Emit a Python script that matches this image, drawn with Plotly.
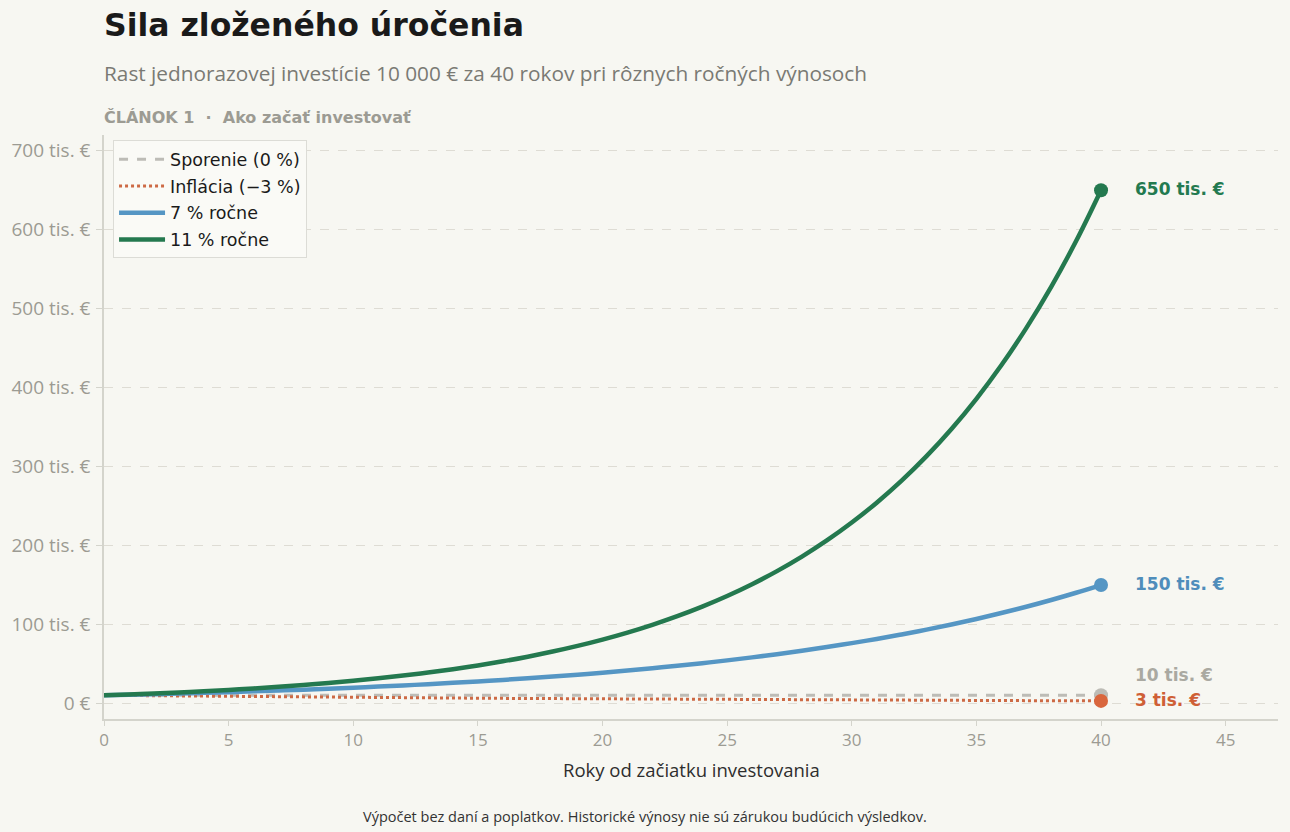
import plotly.graph_objects as go

years = list(range(0, 41))
savings = [10000] * 41
inflation = [10000, 9700, 9409, 9127, 8853, 8587, 8330, 8080, 7837, 7602, 7374, 7153, 6938, 6730, 6528, 6333, 6143, 5958, 5780, 5606, 5438, 5275, 5117, 4963, 4814, 4670, 4530, 4394, 4262, 4134, 4010, 3890, 3773, 3660, 3550, 3444, 3340, 3240, 3143, 3049, 2957]
r7 = [10000, 10700, 11449, 12250, 13108, 14026, 15007, 16058, 17182, 18385, 19672, 21049, 22522, 24098, 25785, 27590, 29522, 31588, 33799, 36165, 38697, 41406, 44304, 47405, 50724, 54274, 58074, 62139, 66488, 71143, 76123, 81451, 87153, 93253, 99781, 106766, 114239, 122236, 130793, 139948, 149745]
r11 = [10000, 11100, 12321, 13676, 15181, 16851, 18704, 20762, 23045, 25580, 28394, 31518, 34985, 38833, 43104, 47846, 53109, 58951, 65436, 72633, 80623, 89492, 99336, 110263, 122392, 135855, 150799, 167387, 185799, 206237, 228923, 254104, 282056, 313082, 347521, 385749, 428181, 475281, 527562, 585594, 650009]

series_names = ["Sporenie (0 %)", "Inflácia (\u22123 %)", "7 % ročne", "11 % ročne"]
end_labels = ["10 tis. €", "3 tis. €", "150 tis. €", "650 tis. €"]
y_tick_vals = [0, 100000, 200000, 300000, 400000, 500000, 600000, 700000]
y_tick_text = ["0 €", "100 tis. €", "200 tis. €", "300 tis. €", "400 tis. €", "500 tis. €", "600 tis. €", "700 tis. €"]
x_tick_vals = [0, 5, 10, 15, 20, 25, 30, 35, 40, 45]

BG = "#f7f7f2"
C_SAVE = "#bdbcb6"
C_INF = "#cd6a45"
C_7 = "#5596c4"
C_11 = "#24794f"
LBL_SAVE = "#aaa9a1"
LBL_INF = "#cf5f36"
LBL_7 = "#4f8dbb"
LBL_11 = "#237a50"

fig = go.Figure()
data = [savings, inflation, r7, r11]
styles = [
    dict(color=C_SAVE, width=3, dash="dash"),
    dict(color=C_INF, width=3, dash="dot"),
    dict(color=C_7, width=4.5, shape="spline"),
    dict(color=C_11, width=4.5, shape="spline"),
]
for i, (name, ys, st) in enumerate(zip(series_names, data, styles)):
    fig.add_trace(go.Scatter(x=years, y=ys, mode="lines", name=name, line=st,
                             legendgroup=f"g{i}", hoverinfo="skip"))

marker_colors = [C_SAVE, "#d9663d", C_7, C_11]
label_colors = [LBL_SAVE, LBL_INF, LBL_7, LBL_11]
label_shift = [19, 0, 0, 0]
for ys, mc, lc, lab, sh in zip(data, marker_colors, label_colors, end_labels, label_shift):
    fig.add_trace(go.Scatter(x=[years[-1]], y=[ys[-1]], mode="markers",
                             marker=dict(color=mc, size=14), showlegend=False,
                             hoverinfo="skip"))
    fig.add_annotation(x=41.3, y=ys[-1], xref="x", yref="y", text=f"<b>{lab}</b>",
                       showarrow=False, xanchor="left", yanchor="middle", yshift=sh + 1,
                       font=dict(family="DejaVu Sans", size=17, color=lc))

fig.add_annotation(xref="paper", yref="paper", x=-0.002, y=1.1884, xanchor="left", yanchor="middle",
                   text="<b>Sila zloženého úročenia</b>", showarrow=False,
                   font=dict(family="DejaVu Sans", size=31.5, color="#1a1a1a"))
fig.add_annotation(xref="paper", yref="paper", x=-0.002, y=1.1062, xanchor="left", yanchor="middle",
                   text="Rast jednorazovej investície 10 000 € za 40 rokov pri rôznych ročných výnosoch",
                   showarrow=False, font=dict(family="Open Sans", size=20.8, color="#7a7a74"))
fig.add_annotation(xref="paper", yref="paper", x=-0.002, y=1.0308, xanchor="left", yanchor="middle",
                   text="<b>ČLÁNOK 1  ·  Ako začať investovať</b>",
                   showarrow=False, font=dict(family="DejaVu Sans", size=16, color="#9c9b93"))
fig.add_annotation(xref="paper", yref="paper", x=0.5, y=-0.0873, xanchor="center", yanchor="middle",
                   text="Roky od začiatku investovania", showarrow=False,
                   font=dict(family="Open Sans", size=18.5, color="#2e2e2e"))
fig.add_annotation(xref="paper", yref="paper", x=0.4608, y=-0.1678, xanchor="center", yanchor="middle",
                   text="Výpočet bez daní a poplatkov. Historické výnosy nie sú zárukou budúcich výsledkov.",
                   showarrow=False, font=dict(family="Open Sans", size=14.5, color="#333333"))

fig.update_layout(
    width=1290, height=832,
    paper_bgcolor=BG, plot_bgcolor=BG,
    margin=dict(l=104, r=12, t=135, b=113),
    showlegend=True,
    legend=dict(x=0.0077, y=0.991, xanchor="left", yanchor="top",
                bgcolor="#fafaf6", bordercolor="#dcdcd6", borderwidth=1,
                font=dict(family="DejaVu Sans", size=17.5, color="#1a1a1a"),
                tracegroupgap=1, itemwidth=46),
    xaxis=dict(range=[0, 47.1], tickvals=x_tick_vals, showgrid=False, zeroline=False,
               showline=True, linecolor="#d4d4cc", linewidth=1.5, ticks="outside",
               tickcolor="#d4d4cc", ticklen=5,
               tickfont=dict(family="Open Sans", size=17, color="#9c9b93")),
    yaxis=dict(range=[-20000, 720000], tickvals=y_tick_vals, ticktext=y_tick_text,
               showgrid=True, gridcolor="#dedcd4", griddash="dash", gridwidth=1,
               zeroline=False, showline=True, linecolor="#d4d4cc", linewidth=1.5,
               ticks="outside", tickcolor="#d4d4cc", ticklen=6, ticklabelstandoff=2,
               tickfont=dict(family="Open Sans", size=19, color="#9c9b93")),
)

fig.write_html("out.html", config={"displayModeBar": False},
               post_script="document.body.style.margin='0';document.body.style.overflow='hidden';")
